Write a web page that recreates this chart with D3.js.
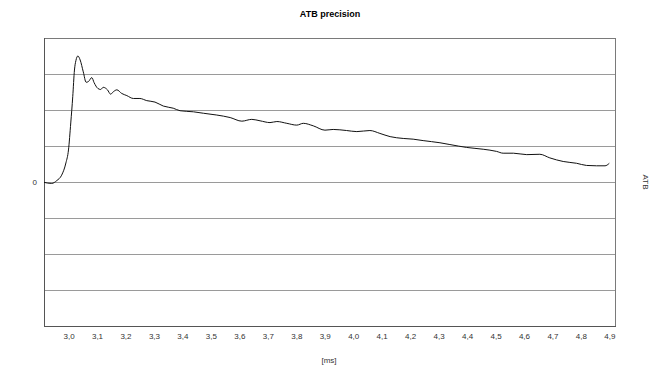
<!DOCTYPE html>
<html>
<head>
<meta charset="utf-8">
<script src="https://d3js.org/d3.v7.min.js"></script>
<style>
  body { margin: 0; background: #fff; }
  text { font-family: "Liberation Sans", Arial, sans-serif; }
</style>
</head>
<body>
<script>
// time in ms
const times = [2.912, 2.939, 2.957, 2.974, 2.989, 2.998, 3.006, 3.013, 3.019, 3.024, 3.031, 3.039,
  3.050, 3.060, 3.068, 3.080, 3.088, 3.101, 3.111, 3.120, 3.135, 3.146, 3.156, 3.168, 3.185,
  3.203, 3.226, 3.249, 3.273, 3.302, 3.331, 3.366, 3.390, 3.437, 3.472, 3.519, 3.566, 3.607,
  3.642, 3.671, 3.706, 3.730, 3.765, 3.800, 3.823, 3.858, 3.899, 3.928, 3.975, 4.011, 4.057,
  4.092, 4.128, 4.174, 4.209, 4.244, 4.303, 4.338, 4.397, 4.455, 4.502, 4.525, 4.561, 4.608,
  4.654, 4.689, 4.736, 4.783, 4.818, 4.853, 4.883, 4.898];
// ATB precision (gridline units)
const values = [-0.01, -0.04, 0.04, 0.19, 0.53, 0.89, 1.64, 2.37, 3.11, 3.37, 3.50, 3.39,
  3.06, 2.77, 2.79, 2.90, 2.76, 2.60, 2.57, 2.63, 2.56, 2.44, 2.51, 2.56, 2.46,
  2.40, 2.32, 2.32, 2.26, 2.22, 2.11, 2.05, 1.98, 1.95, 1.91, 1.86, 1.79, 1.69,
  1.74, 1.70, 1.65, 1.68, 1.63, 1.58, 1.63, 1.56, 1.44, 1.46, 1.43, 1.40, 1.43,
  1.35, 1.26, 1.21, 1.19, 1.15, 1.09, 1.04, 0.96, 0.91, 0.85, 0.80, 0.80, 0.76,
  0.77, 0.67, 0.57, 0.52, 0.46, 0.45, 0.45, 0.52];
const xTicks = [3.0, 3.1, 3.2, 3.3, 3.4, 3.5, 3.6, 3.7, 3.8, 3.9, 4.0, 4.1, 4.2, 4.3, 4.4, 4.5, 4.6, 4.7, 4.8, 4.9];
const yGrid = [-3, -2, -1, 0, 1, 2, 3];

const width = 660, height = 372;
const plotL = 44, plotR = 615, plotT = 38, plotB = 326;

const svg = d3.select("body").append("svg")
  .attr("width", width).attr("height", height);

const x = d3.scaleLinear().domain([2.912, 4.918]).range([plotL, plotR]);
const y = d3.scaleLinear().domain([-4, 4]).range([plotB, plotT]);

// title
svg.append("text")
  .attr("x", 330).attr("y", 17)
  .attr("text-anchor", "middle")
  .style("font-size", "9px").style("font-weight", "bold")
  .text("ATB precision");

// grid
svg.selectAll("line.grid").data(yGrid).enter().append("line")
  .attr("x1", plotL).attr("x2", plotR)
  .attr("y1", d => Math.round(y(d)) + 0.5).attr("y2", d => Math.round(y(d)) + 0.5)
  .attr("stroke", "#9a9a9a").attr("stroke-width", 1);

// frame
svg.append("rect")
  .attr("x", plotL + 0.5).attr("y", plotT + 0.5)
  .attr("width", plotR - plotL).attr("height", plotB - plotT)
  .attr("fill", "none").attr("stroke", "#7a7a7a").attr("stroke-width", 1);
svg.append("line").attr("x1", plotL + 0.5).attr("x2", plotL + 0.5)
  .attr("y1", plotT).attr("y2", plotB + 1).attr("stroke", "#555");
svg.append("line").attr("x1", plotL).attr("x2", plotR + 1)
  .attr("y1", plotB + 0.5).attr("y2", plotB + 0.5).attr("stroke", "#555");

// x axis labels
svg.selectAll("text.xt").data(xTicks).enter().append("text")
  .attr("x", d => x(d)).attr("y", 339)
  .attr("text-anchor", "middle")
  .style("font-size", "8px").style("fill", "#333")
  .text(d => d.toFixed(1).replace(".", ","));

svg.append("text")
  .attr("x", 329).attr("y", 363)
  .attr("text-anchor", "middle")
  .style("font-size", "8px").style("fill", "#333")
  .text("[ms]");

// y label "0"
svg.append("text")
  .attr("x", 37).attr("y", y(0) + 3)
  .attr("text-anchor", "end")
  .style("font-size", "8px").style("fill", "#333")
  .text("0");

// right axis title
svg.append("text")
  .attr("transform", `translate(643, ${y(0)}) rotate(90)`)
  .attr("text-anchor", "middle")
  .style("font-size", "8px").style("fill", "#333")
  .text("ATB");

// curve
const line = d3.line()
  .x((d, i) => x(times[i]))
  .y(d => y(d))
  .curve(d3.curveMonotoneX);

svg.append("path")
  .datum(values)
  .attr("d", line)
  .attr("fill", "none")
  .attr("stroke", "#111")
  .attr("stroke-width", 1);
</script>
</body>
</html>
